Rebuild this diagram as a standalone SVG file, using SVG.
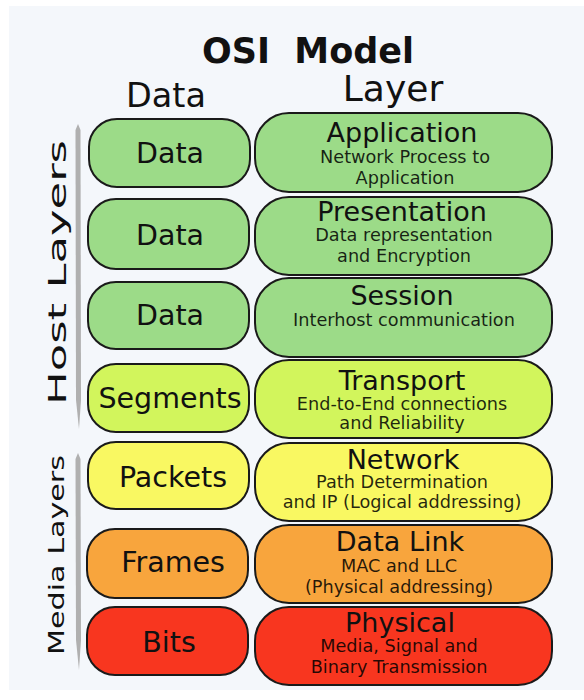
<svg xmlns="http://www.w3.org/2000/svg" width="584" height="700" viewBox="0 0 584 700">
<style>
text{font-family:"DejaVu Sans","Verdana",sans-serif;fill:#111}
.box{stroke:#1a1a1a;stroke-width:2}
.g{fill:#9cdb88}.yg{fill:#d2f55c}.y{fill:#f9f862}.o{fill:#f8a53d}.r{fill:#f8361f}
.dl{font-size:28.5px;text-anchor:middle}
.t{font-size:27px;text-anchor:middle}
.s{font-size:17.7px;text-anchor:middle;fill-opacity:0.85;fill:#000}
.bar{fill:#b0b0b0}
</style>
<rect x="0" y="0" width="584" height="700" fill="#ffffff"/>
<rect x="9" y="6" width="575" height="684" fill="#f4f7fb"/>
<g id="header">
<text x="308" y="63" font-size="35" font-weight="bold" text-anchor="middle" xml:space="preserve" style="white-space:pre">OSI  Model</text>
<text x="166" y="107" font-size="33.5" text-anchor="middle">Data</text>
<text x="393" y="101" font-size="36" text-anchor="middle">Layer</text>
</g>
<g id="groups">
<path class="bar" d="M78,124 L80.5,130 L81,400 L79,429 L76,400 L75.5,130 Z"/>
<path class="bar" d="M78,453 L80.5,459 L81,640 L79,670 L76,640 L75.5,459 Z"/>
<text transform="translate(66,405) rotate(-90)" font-size="25" textLength="265" lengthAdjust="spacingAndGlyphs">Host Layers</text>
<text transform="translate(64,655) rotate(-90)" font-size="21" textLength="200" lengthAdjust="spacingAndGlyphs">Media Layers</text>
</g>
<g id="connectors"></g>
<g id="data-application">
<rect class="box g" x="89" y="119" width="161" height="68" rx="28"/>
<text class="dl" x="170" y="163">Data</text>
</g>
<g id="data-presentation">
<rect class="box g" x="88" y="199" width="161" height="70" rx="28"/>
<text class="dl" x="170" y="245">Data</text>
</g>
<g id="data-session">
<rect class="box g" x="88" y="282" width="161" height="67" rx="28"/>
<text class="dl" x="170" y="325">Data</text>
</g>
<g id="segments">
<rect class="box yg" x="88" y="364" width="161" height="68" rx="28"/>
<text class="dl" x="170" y="408">Segments</text>
</g>
<g id="packets">
<rect class="box y" x="88" y="442" width="161" height="67" rx="28"/>
<text class="dl" x="173" y="487">Packets</text>
</g>
<g id="frames">
<rect class="box o" x="87" y="529" width="161" height="69" rx="28"/>
<text class="dl" x="173" y="572">Frames</text>
</g>
<g id="bits">
<rect class="box r" x="87" y="607" width="161" height="68" rx="28"/>
<text class="dl" x="169" y="652">Bits</text>
</g>
<g id="application">
<rect class="box g" x="255" y="113" width="297" height="79" rx="34"/>
<text class="t" x="402" y="142">Application</text>
<text class="s" x="405" y="163">Network Process to</text>
<text class="s" x="405" y="184">Application</text>
</g>
<g id="presentation">
<rect class="box g" x="255" y="197" width="297" height="78" rx="34"/>
<text class="t" x="402" y="221">Presentation</text>
<text class="s" x="404" y="241">Data representation</text>
<text class="s" x="404" y="262">and Encryption</text>
</g>
<g id="session">
<rect class="box g" x="255" y="278" width="297" height="79" rx="34"/>
<text class="t" x="402" y="305">Session</text>
<text class="s" x="404" y="326">Interhost communication</text>
</g>
<g id="transport">
<rect class="box yg" x="255" y="360" width="297" height="78" rx="34"/>
<text class="t" x="402" y="390">Transport</text>
<text class="s" x="402" y="410">End-to-End connections</text>
<text class="s" x="402" y="429">and Reliability</text>
</g>
<g id="network">
<rect class="box y" x="255" y="443" width="297" height="78" rx="34"/>
<text class="t" x="403" y="469">Network</text>
<text class="s" x="402" y="488">Path Determination</text>
<text class="s" x="402" y="508">and IP (Logical addressing)</text>
</g>
<g id="data-link">
<rect class="box o" x="255" y="525" width="297" height="78" rx="34"/>
<text class="t" x="400" y="551">Data Link</text>
<text class="s" x="399" y="572">MAC and LLC</text>
<text class="s" x="399" y="593">(Physical addressing)</text>
</g>
<g id="physical">
<rect class="box r" x="255" y="607" width="297" height="78" rx="34"/>
<text class="t" x="400" y="632">Physical</text>
<text class="s" x="399" y="652">Media, Signal and</text>
<text class="s" x="399" y="673">Binary Transmission</text>
</g>
</svg>
